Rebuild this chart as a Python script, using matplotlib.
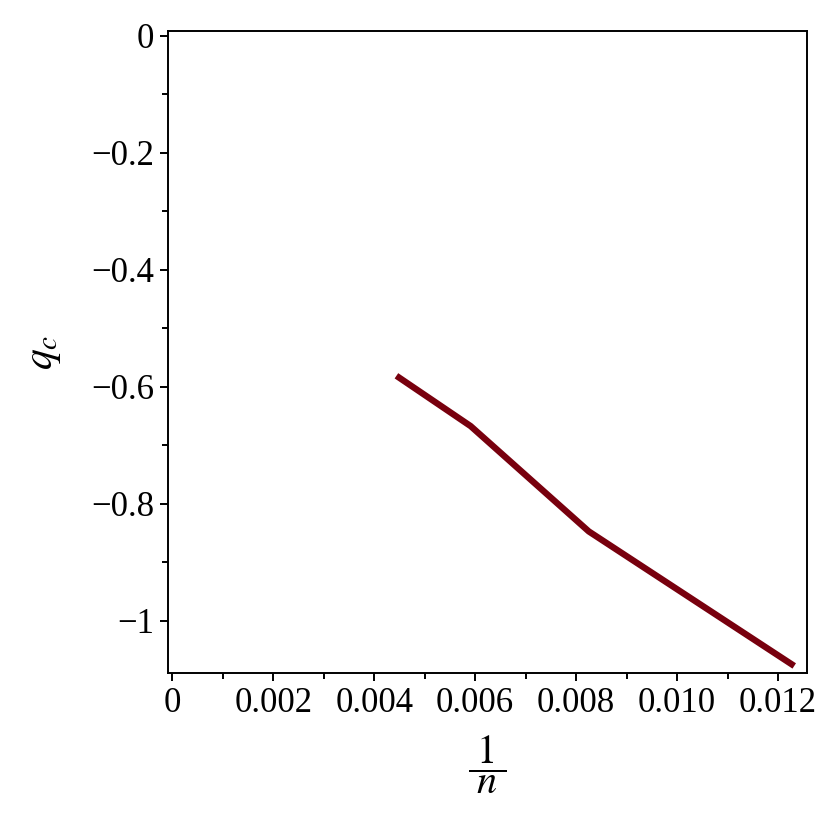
import matplotlib
matplotlib.use("Agg")
import matplotlib.pyplot as plt
from matplotlib.ticker import MultipleLocator

# values (1/n against q_c)
inv_n = [0.00444, 0.00591, 0.00825, 0.01232]
q_c = [-0.581, -0.667, -0.847, -1.077]

x_ticks = [0, 0.002, 0.004, 0.006, 0.008, 0.010, 0.012]
x_labels = ["0", "0.002", "0.004", "0.006", "0.008", "0.010", "0.012"]
y_ticks = [0, -0.2, -0.4, -0.6, -0.8, -1.0]
y_labels = ["0", "\u22120.2", "\u22120.4", "\u22120.6", "\u22120.8", "\u22121"]

plt.rcParams['font.family'] = ['Liberation Serif', 'DejaVu Serif']
plt.rcParams['mathtext.fontset'] = 'stix'

fig = plt.figure(figsize=(8.3, 8.3), dpi=100)
ax = fig.add_axes([0.2024, 0.1892, 0.7696, 0.7735])

ax.plot(inv_n, q_c, color='#78000e', linewidth=4.6, solid_capstyle='butt')

ax.set_xlim(-0.000085, 0.012568)
ax.set_ylim(-1.089, 0.0085)

ax.set_xticks(x_ticks)
ax.set_xticklabels(x_labels)
ax.set_yticks(y_ticks)
ax.set_yticklabels(y_labels)
ax.xaxis.set_minor_locator(MultipleLocator(0.001))
ax.yaxis.set_minor_locator(MultipleLocator(0.1))

ax.tick_params(which='both', direction='out', top=False, right=False,
               width=1.4, labelsize=25, colors='black')
ax.tick_params(which='major', length=6, pad=4)
ax.tick_params(which='minor', length=4)
for s in ax.spines.values():
    s.set_linewidth(1.4)

ax.set_xlabel(r'$\dfrac{\;1\;}{\;n\;}$', fontsize=29, labelpad=10)
ax.set_ylabel(r'$q_c$', fontsize=30, labelpad=20)

fig.savefig("out.png", dpi=100)
